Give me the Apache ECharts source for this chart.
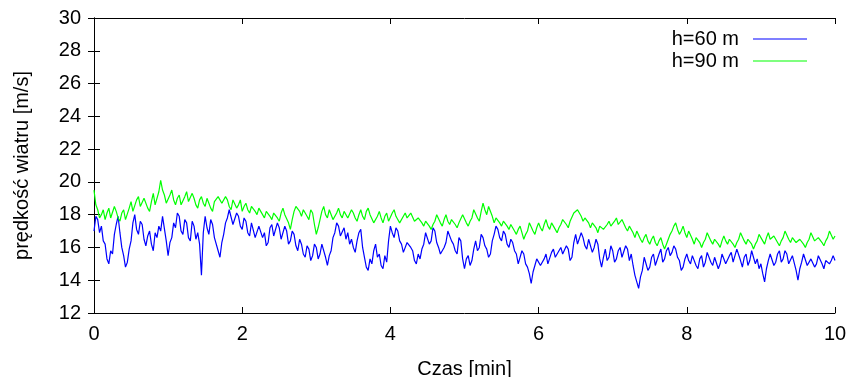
<!DOCTYPE html>
<html><head><meta charset="utf-8">
<script src="https://cdn.jsdelivr.net/npm/echarts@6/dist/echarts.min.js"></script>
<style>html,body{margin:0;padding:0;background:#fff}#c{width:852px;height:377px}</style>
</head><body><div id="c"></div>
<script>
const step = 0.025; // minutes between samples
const xTicks = [0, 2, 4, 6, 8, 10];
const yTicks = [12, 14, 16, 18, 20, 22, 24, 26, 28, 30];
const seriesNames = ['h=60 m', 'h=90 m'];
const h60 = [
17.0,17.9,17.7,16.9,17.3,16.4,16.2,15.3,15.0,15.8,15.6,16.8,17.4,17.9,16.9,16.0,15.5,14.8,15.1,15.9,
16.4,17.5,18.0,17.1,16.8,17.6,17.4,16.5,16.1,16.7,17.0,16.2,15.8,16.9,16.6,17.3,17.0,17.9,17.8,16.4,
15.5,16.3,16.6,17.5,17.2,18.1,17.9,17.0,16.8,17.7,17.5,16.6,16.4,17.6,17.3,16.5,16.9,16.2,14.3,16.9,
17.9,17.2,16.8,17.7,17.4,16.6,16.5,15.8,15.4,16.3,16.8,17.5,17.8,18.3,18.2,17.4,17.5,18.1,17.9,17.3,
17.1,17.8,17.6,16.9,16.7,17.5,17.4,16.6,16.5,17.3,17.2,16.6,16.9,16.1,16.3,17.2,17.4,16.7,16.8,17.5,
17.2,16.5,16.6,17.3,17.0,16.2,16.4,17.0,16.8,16.1,15.8,16.5,16.2,15.6,15.4,16.1,15.9,15.2,15.5,16.2,
16.0,15.3,15.6,16.2,16.3,15.4,14.9,15.5,15.8,16.6,16.9,17.5,17.3,16.7,16.8,17.2,16.5,16.9,16.2,16.5,
16.0,15.7,16.4,16.9,17.1,16.0,15.4,14.8,14.6,15.3,15.0,15.8,16.2,15.4,15.6,14.9,14.7,15.5,15.1,16.4,
17.3,16.9,16.6,17.2,17.0,16.4,16.2,15.7,15.6,16.3,16.4,16.0,15.8,15.2,15.0,15.6,15.3,15.9,16.2,16.9,
16.8,16.2,16.4,17.2,17.0,16.3,16.0,15.6,15.5,16.0,16.3,17.0,16.9,16.4,16.2,15.8,15.6,16.6,16.4,15.3,
14.7,15.3,15.5,14.9,15.2,15.9,16.4,15.8,16.0,16.8,16.6,16.1,15.9,15.4,15.6,16.4,16.8,17.3,17.1,16.6,
16.4,17.0,16.8,16.2,16.0,16.5,16.3,15.8,15.6,15.0,15.1,15.8,15.6,15.0,14.8,14.4,13.8,14.5,14.9,15.3,
15.4,14.9,14.8,15.3,15.6,15.0,15.1,15.7,15.9,15.4,15.3,15.8,16.0,15.6,15.5,16.1,15.9,15.2,15.4,16.3,
16.8,16.2,16.3,16.9,16.6,16.1,15.9,16.5,16.4,15.7,16.0,16.5,16.2,15.3,14.8,15.4,15.9,15.2,15.4,16.1,
15.8,15.1,15.3,15.8,16.0,15.4,15.5,16.1,15.9,15.2,15.6,14.9,14.3,13.9,13.5,14.2,14.6,15.4,15.3,14.6,
14.8,15.4,15.6,14.9,15.0,15.6,15.9,15.1,15.3,15.8,16.0,15.5,15.7,16.1,15.9,15.4,15.2,14.6,14.8,15.3,
15.6,15.2,15.0,15.5,15.4,14.9,14.7,15.3,15.5,14.8,15.1,15.7,15.6,15.1,14.9,15.4,15.3,14.7,15.0,15.6,
15.5,15.0,14.9,15.5,15.7,15.1,15.2,15.9,15.8,15.2,14.8,15.4,15.6,14.9,15.2,15.8,15.7,15.0,15.3,14.7,
15.0,14.4,13.9,14.7,15.2,15.6,15.7,14.9,15.1,15.6,15.8,15.1,15.3,15.8,15.6,15.0,14.9,15.5,15.4,14.6,
14.0,14.7,15.1,15.6,15.5,14.9,14.8,15.3,15.4,14.8,15.0,15.5,15.6,15.0,14.7,15.2,15.3,15.0,15.2,15.5,
15.2];
const h90 = [
19.5,18.6,18.3,17.8,18.0,18.3,17.7,18.1,18.4,17.8,17.9,18.5,18.2,17.8,17.6,18.1,18.3,17.7,17.8,18.4,
18.8,18.2,18.3,18.9,19.1,18.5,18.4,19.0,18.9,18.4,18.2,18.8,19.3,18.6,18.7,19.4,20.1,19.5,19.2,18.7,
18.8,19.2,19.5,18.9,18.6,19.0,19.2,18.6,18.5,19.1,19.4,18.8,18.7,19.3,19.0,18.6,18.4,18.9,19.1,18.7,
18.5,19.0,18.9,18.4,18.2,18.8,18.7,19.1,19.2,18.7,18.6,19.1,18.9,18.5,18.3,18.9,18.8,18.4,18.6,18.9,
18.2,18.5,18.7,18.3,18.1,18.5,18.6,18.2,18.0,18.4,18.5,18.0,17.8,18.2,18.3,17.9,17.7,18.1,18.2,17.8,
17.6,18.1,18.4,18.0,17.9,17.5,17.1,17.7,18.2,18.5,18.6,18.2,17.9,18.3,18.4,17.9,17.7,18.3,18.1,17.4,
16.8,17.2,17.7,18.2,18.5,18.0,17.8,18.3,18.2,17.7,17.6,18.1,18.4,18.0,17.8,18.2,18.3,17.8,17.9,18.3,
18.1,17.8,17.6,18.0,18.3,17.9,17.7,18.2,18.4,18.0,17.9,17.5,17.6,17.9,18.2,17.8,17.5,17.9,18.1,17.6,
17.7,18.1,18.3,17.9,17.8,17.5,17.4,17.9,18.1,17.8,17.7,18.1,18.0,17.6,17.5,17.8,17.9,17.5,17.3,17.6,
17.7,17.3,17.1,17.4,17.6,18.0,17.9,17.5,17.3,17.7,18.0,17.6,17.4,17.7,17.8,17.4,17.2,17.5,17.6,18.0,
17.9,17.5,17.3,17.6,17.8,18.3,18.2,17.8,17.6,18.2,18.7,18.3,18.0,18.5,18.4,17.9,17.5,17.8,17.9,17.5,
17.3,17.6,17.7,17.3,17.1,17.4,17.5,17.0,16.8,17.1,17.3,16.9,16.5,16.8,17.0,17.5,17.4,17.0,16.8,17.2,
17.5,17.2,17.0,17.4,17.7,17.3,17.1,17.5,17.6,17.1,16.9,17.2,17.4,17.7,17.8,17.4,17.2,17.6,17.7,18.1,
18.0,18.3,18.4,17.9,17.6,17.8,17.9,17.5,17.2,17.5,17.6,17.2,16.9,17.3,17.4,17.1,17.0,17.4,17.6,17.3,
17.2,17.6,17.8,17.4,17.3,17.7,17.6,17.2,17.0,17.3,17.4,16.9,16.6,17.0,16.9,16.5,16.3,16.6,16.8,16.4,
16.2,16.5,16.7,16.3,16.1,16.4,16.6,16.2,15.9,16.2,16.5,16.8,17.0,17.3,17.5,17.1,16.8,17.0,17.3,16.9,
16.6,17.0,16.9,16.5,16.2,16.6,16.7,16.3,16.0,16.3,16.5,16.9,16.8,16.4,16.2,16.5,16.6,16.2,16.0,16.4,
16.7,16.4,16.2,16.5,16.6,16.2,16.0,16.3,16.5,16.9,16.8,16.4,16.2,16.5,16.6,16.2,15.9,16.2,16.4,16.8,
16.7,16.4,16.2,16.6,16.9,16.5,16.4,16.7,16.8,16.3,16.1,16.4,16.6,17.0,16.9,16.5,16.3,16.6,16.7,16.3,
16.2,16.5,16.6,16.2,16.0,16.3,16.5,16.9,16.8,16.4,16.3,16.6,16.7,16.3,16.1,16.4,16.6,17.0,16.9,16.5,
16.7];

const pairs = arr => arr.map((v, i) => [+(i * step).toFixed(4), v]);
const font = 'Liberation Sans, Arial, Helvetica, sans-serif';
const fs = 20;
const chart = echarts.init(document.getElementById('c'), null, {renderer: 'canvas'});
const axisLine = {show: true, lineStyle: {color: '#000', width: 1}};
const tick = {show: true, inside: true, length: 6, lineStyle: {color: '#000', width: 1}};
chart.setOption({
  animation: false,
  backgroundColor: '#fff',
  grid: {left: 94, right: 17, top: 18, bottom: 64, containLabel: false, outerBoundsMode: 'none'},
  legend: {
    orient: 'vertical', right: 40, top: 24, align: 'right',
    icon: 'rect', itemWidth: 54, itemHeight: 1.2, itemGap: 2,
    textStyle: {fontFamily: font, fontSize: fs, lineHeight: 20, color: '#000', padding: [0, 9, 0, 0]},
    data: seriesNames
  },
  xAxis: [{
    type: 'value', min: xTicks[0], max: xTicks[xTicks.length - 1], interval: 2,
    axisLine, axisTick: tick, splitLine: {show: false},
    axisLabel: {fontFamily: font, fontSize: fs, color: '#000', margin: 11},
    name: 'Czas [min]', nameLocation: 'middle', nameGap: 46,
    nameTextStyle: {fontFamily: font, fontSize: fs, color: '#000'}
  }, {
    type: 'value', position: 'top', min: xTicks[0], max: xTicks[xTicks.length - 1], interval: 2,
    axisLine, axisTick: tick, axisLabel: {show: false}, splitLine: {show: false}
  }],
  yAxis: [{
    type: 'value', min: yTicks[0], max: yTicks[yTicks.length - 1], interval: 2,
    axisLine, axisTick: tick, splitLine: {show: false},
    axisLabel: {fontFamily: font, fontSize: fs, color: '#000', margin: 13},
    name: 'prędkość wiatru [m/s]', nameLocation: 'middle', nameGap: 62,
    nameTextStyle: {fontFamily: font, fontSize: fs, color: '#000'}
  }, {
    type: 'value', position: 'right', min: yTicks[0], max: yTicks[yTicks.length - 1], interval: 2,
    axisLine, axisTick: tick, axisLabel: {show: false}, splitLine: {show: false}
  }],
  series: [
    {name: seriesNames[0], type: 'line', data: pairs(h60), symbol: 'none', color: '#0000ff',
     lineStyle: {width: 1.2, color: '#0000ff'}},
    {name: seriesNames[1], type: 'line', data: pairs(h90), symbol: 'none', color: '#00ff00',
     lineStyle: {width: 1.2, color: '#00ff00'}}
  ]
});
</script></body></html>
